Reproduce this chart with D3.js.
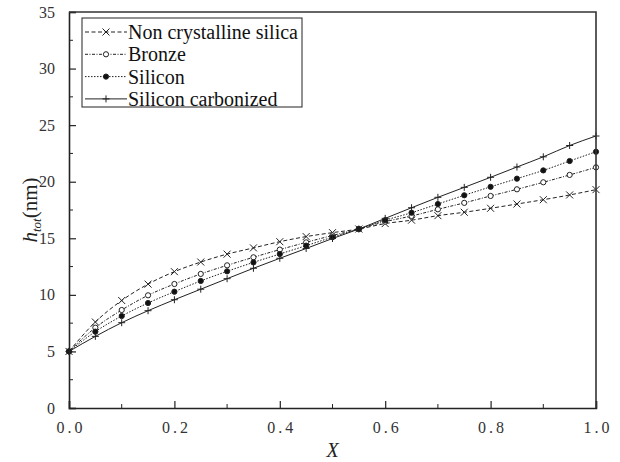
<!DOCTYPE html>
<html>
<head>
<meta charset="utf-8">
<script src="https://cdn.jsdelivr.net/npm/d3@7"></script>
<style>
  body { margin: 0; background: #fff; }
</style>
</head>
<body>
<div id="chart"></div>
<script>
// x positions of the markers
const xValues = [0, 0.05, 0.1, 0.15, 0.2, 0.25, 0.3, 0.35, 0.4, 0.45, 0.5,
                 0.55, 0.6, 0.65, 0.7, 0.75, 0.8, 0.85, 0.9, 0.95, 1.0];

// h_tot (nm)
const nonCrystalline = [5.0, 7.6, 9.5, 10.95, 12.05, 12.9, 13.6, 14.15, 14.7, 15.15, 15.5,
                        15.82, 16.3, 16.6, 17.0, 17.3, 17.65, 18.03, 18.41, 18.83, 19.3];
const bronze = [5.0, 7.1, 8.66, 9.96, 10.96, 11.85, 12.61, 13.32, 14.0, 14.64, 15.25,
                15.82, 16.47, 16.97, 17.56, 18.13, 18.74, 19.33, 19.95, 20.6, 21.27];
const silicon = [5.0, 6.75, 8.13, 9.28, 10.28, 11.23, 12.08, 12.87, 13.61, 14.35, 15.1,
                 15.82, 16.6, 17.26, 18.03, 18.8, 19.55, 20.27, 21.0, 21.83, 22.65];
const siliconCarbonized = [5.0, 6.33, 7.54, 8.6, 9.57, 10.5, 11.43, 12.35, 13.23, 14.1, 14.98,
                           15.82, 16.76, 17.7, 18.62, 19.5, 20.39, 21.3, 22.2, 23.2, 24.04];

const seriesNames = ["Non crystalline silica", "Bronze", "Silicon", "Silicon carbonized"];
const seriesValues = [nonCrystalline, bronze, silicon, siliconCarbonized];

const xTicks = [0, 0.2, 0.4, 0.6, 0.8, 1.0];
const xMinorTicks = [0.1, 0.3, 0.5, 0.7, 0.9];
const yTicks = [0, 5, 10, 15, 20, 25, 30, 35];
const yMinorTicks = [2.5, 7.5, 12.5, 17.5, 22.5, 27.5, 32.5];

const serif = "'Liberation Serif', 'Times New Roman', Tinos, 'DejaVu Serif', serif";

// Dimensions
const width = 620, height = 462;
const margin = { top: 12, right: 24, bottom: 54, left: 69 };
const innerW = width - margin.left - margin.right;
const innerH = height - margin.top - margin.bottom;

const svg = d3.select("#chart")
    .append("svg")
    .attr("width", width)
    .attr("height", height)
    .style("font-family", serif);

const g = svg.append("g")
    .attr("transform", `translate(${margin.left}, ${margin.top})`);

const x = d3.scaleLinear().domain([0, 1]).range([0, innerW]);
const y = d3.scaleLinear().domain([0, 35]).range([innerH, 0]);

// line styles and markers per series
const dashes = ["4,2.5", "3,1.5,1,1.5", "1.5,1.5", null];
const markerTypes = ["cross", "open", "filled", "plus"];

// Curves
const line = d3.line()
    .x((d, i) => x(xValues[i]))
    .y(d => y(d))
    .curve(d3.curveMonotoneX);

seriesValues.forEach((vals, s) => {
    g.append("path")
        .datum(vals)
        .attr("fill", "none")
        .attr("stroke", "#222")
        .attr("stroke-width", 1)
        .attr("stroke-dasharray", dashes[s])
        .attr("d", line);
});

function drawMarker(sel, type, cx, cy) {
    if (type === "cross") {
        const r = 3.5;
        sel.append("path")
            .attr("d", `M${cx - r},${cy - r}L${cx + r},${cy + r}M${cx - r},${cy + r}L${cx + r},${cy - r}`)
            .attr("stroke", "#222").attr("stroke-width", 1);
    } else if (type === "plus") {
        const r = 3.5;
        sel.append("path")
            .attr("d", `M${cx - r},${cy}L${cx + r},${cy}M${cx},${cy - r}L${cx},${cy + r}`)
            .attr("stroke", "#222").attr("stroke-width", 1);
    } else {
        sel.append("circle")
            .attr("cx", cx).attr("cy", cy).attr("r", 2.6)
            .attr("fill", type === "filled" ? "#111" : "#fff")
            .attr("stroke", "#222").attr("stroke-width", 1);
    }
}

seriesValues.forEach((vals, s) => {
    const mg = g.append("g");
    vals.forEach((v, i) => drawMarker(mg, markerTypes[s], x(xValues[i]), y(v)));
});

// Axes
const xAxis = g.append("g")
    .attr("transform", `translate(0, ${innerH})`)
    .call(d3.axisBottom(x).tickValues(xTicks).tickSize(-7).tickPadding(14)
        .tickFormat(d3.format(".1f")));
xAxis.append("g").selectAll("line")
    .data(xMinorTicks).join("line")
    .attr("x1", d => x(d)).attr("x2", d => x(d))
    .attr("y1", 0).attr("y2", -4)
    .attr("stroke", "#222");

const yAxis = g.append("g")
    .call(d3.axisLeft(y).tickValues(yTicks).tickSize(-7).tickPadding(14));
yAxis.append("g").selectAll("line")
    .data(yMinorTicks).join("line")
    .attr("y1", d => y(d)).attr("y2", d => y(d))
    .attr("x1", 0).attr("x2", 4)
    .attr("stroke", "#222");

[xAxis, yAxis].forEach(a => {
    a.attr("font-family", null);
    a.select(".domain").attr("stroke", "#222").attr("stroke-width", 1.6);
    a.selectAll(".tick line").attr("stroke", "#222").attr("stroke-width", 1.2);
    a.selectAll(".tick text")
        .style("font-family", serif)
        .style("font-size", "16px").attr("fill", "#333");
});
xAxis.selectAll(".tick text").attr("letter-spacing", "3px").attr("dx", "1.5px");

// Frame top and right
g.append("path")
    .attr("d", `M0,0H${innerW}V${innerH}`)
    .attr("fill", "none")
    .attr("stroke", "#333")
    .attr("stroke-width", 1.6);

// Axis titles
svg.append("text")
    .attr("x", margin.left + innerW / 2)
    .attr("y", 457)
    .attr("text-anchor", "middle")
    .style("font-family", serif)
    .style("font-size", "20px")
    .style("font-style", "italic")
    .attr("fill", "#222")
    .text("X");

const yTitle = svg.append("text")
    .attr("transform", `translate(37, ${margin.top + innerH / 2}) rotate(-90)`)
    .attr("text-anchor", "middle")
    .style("font-family", serif)
    .attr("fill", "#222")
    .style("font-size", "21px");
yTitle.append("tspan").style("font-style", "italic").text("h");
yTitle.append("tspan").style("font-style", "italic").style("font-size", "13px")
    .attr("dy", 4).text("tot");
yTitle.append("tspan").attr("dy", -4).text("(nm)");

// Legend
const legend = g.append("g").attr("transform", "translate(13, 6)");
legend.append("rect")
    .attr("width", 220).attr("height", 89)
    .attr("fill", "#fff").attr("stroke", "#222").attr("stroke-width", 1);

seriesNames.forEach((name, i) => {
    const row = legend.append("g").attr("transform", `translate(0, ${14 + i * 22.3})`);
    row.append("line")
        .attr("x1", 3).attr("x2", 45)
        .attr("stroke", "#222").attr("stroke-width", 1)
        .attr("stroke-dasharray", dashes[i]);
    drawMarker(row, markerTypes[i], 24, 0);
    row.append("text")
        .attr("x", 46).attr("y", 0).attr("dy", "0.35em")
        .style("font-family", serif)
        .style("font-size", "20px")
        .attr("fill", "#111")
        .text(name);
});
</script>
</body>
</html>
